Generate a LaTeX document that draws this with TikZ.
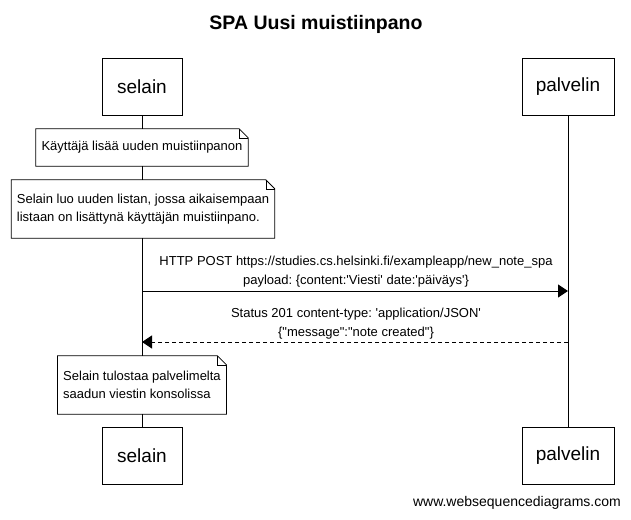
\documentclass[tikz,border=0pt]{standalone}
\usepackage{fontspec}
\setmainfont{Liberation Sans}[Ligatures=TeXOff]
\usetikzlibrary{arrows.meta}
\frenchspacing
\tikzset{
  part/.style={draw, line width=0.9pt, minimum height=57pt, inner sep=0pt, font=\fontsize{19}{22}\selectfont},
  notebox/.style={fill=white, font=\fontsize{13}{18}\selectfont, align=left, inner xsep=5.5pt, inner ysep=0pt},
  noteline/.style={line width=0.8pt},
  lifeline/.style={line width=0.9pt},
  msg/.style={line width=0.9pt, -{Triangle[length=10pt,width=13pt]}},
  reply/.style={msg, dash pattern=on 4pt off 3pt},
  lbl/.style={font=\fontsize{13}{19}\selectfont, align=center, inner sep=0pt}
}
\newcommand{\notefold}[1]{%
  \draw[noteline] (#1.north west) -- ([xshift=-9pt]#1.north east) -- ([yshift=-9pt]#1.north east) -- (#1.south east) -- (#1.south west) -- cycle;
  \draw[line width=0.5pt] ([xshift=-9pt]#1.north east) -- ([xshift=-9pt,yshift=-9pt]#1.north east) -- ([yshift=-9pt]#1.north east);
}
\begin{document}
\frenchspacing
\begin{tikzpicture}[x=1pt,y=-1pt]
\useasboundingbox[fill=white] (0,0) rectangle (631,519);
\node[font=\fontsize{19.5}{22}\selectfont\bfseries] (title) at (316,24) {SPA Uusi muistiinpano};
% participants
\node[part, minimum width=80pt] (s1) at (142,86.5) {selain};
\node[part, minimum width=92pt] (p1) at (568,86.5) {palvelin};
\node[part, minimum width=80pt] (s2) at (142,455.5) {selain};
\node[part, minimum width=92pt] (p2) at (568,455.5) {palvelin};
% lifelines
\draw[lifeline] (s1.south) -- (s2.north);
\draw[lifeline] (p1.south) -- (p2.north);
% notes
\node[notebox, minimum height=37pt] (n1) at (142,147.5) {Käyttäjä lisää uuden muistiinpanon};
\notefold{n1}
\node[notebox, minimum height=58pt] (n2) at (143,209) {Selain luo uuden listan, jossa aikaisempaan\\listaan on lisättynä käyttäjän muistiinpano.};
\notefold{n2}
% messages
\coordinate (m1s) at (142,291);
\coordinate (m1e) at (568,291);
\draw[msg] (m1s) -- (m1e);
\node[lbl] (l1) at (356,272) {HTTP POST https://studies.cs.helsinki.fi/exampleapp/new\_note\_spa\\payload: \{content:'Viesti' date:'päiväys'\}};
\coordinate (m2s) at (568,342);
\coordinate (m2e) at (142,342);
\draw[reply] (m2s) -- (m2e);
\node[lbl] (l2) at (356,323.5) {Status 201 content-type: 'application/JSON'\\\{"message":"note created"\}};
\node[notebox, minimum height=58pt] (n3) at (142,385) {Selain tulostaa palvelimelta\\saadun viestin konsolissa};
\notefold{n3}
% footer
\node[anchor=east, font=\fontsize{14}{16}\selectfont, inner sep=0pt] (foot) at (621,503) {www.websequencediagrams.com};
\end{tikzpicture}
\end{document}
